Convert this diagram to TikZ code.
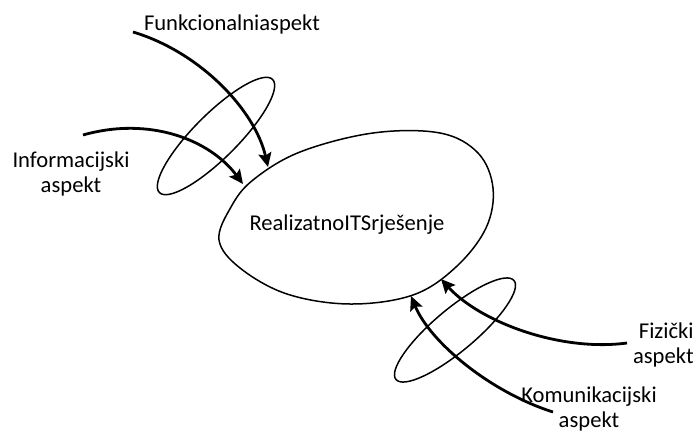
\documentclass[tikz,border=0pt]{standalone}
\usepackage{fontspec}
\setmainfont{Carlito}
\usetikzlibrary{arrows.meta}
\begin{document}
\begin{tikzpicture}[x=0.5pt,y=-0.5pt,
  lbl/.style={inner sep=0pt,font=\fontsize{11.3}{12.5}\selectfont},
  thin line/.style={line width=0.75pt},
  aspect arrow/.style={line width=1.4pt,-{Stealth[length=7pt,width=6.5pt,inset=1.2pt]}}]
\useasboundingbox (0,0) rectangle (697,434);
% central blob
\draw[thin line] plot[smooth cycle,tension=0.6] coordinates {
  (219,240) (231,207) (253,180) (300,152) (373,133) (440,133) (478,153)
  (493,188) (486,228) (456,267) (413,295) (350,304) (287,294) (240,268)};
\node[lbl] (main) at (347,225) {RealizatnoITSrješenje};
% ellipses
\draw[thin line] (216,136) ellipse[x radius=80, y radius=22, rotate=45];
\draw[thin line] (455,330) ellipse[x radius=77, y radius=21, rotate=40];
% labels
\node[lbl] (funk) at (232,24) {Funkcionalniaspekt};
\node[lbl,align=center] (info) at (71,174) {Informacijski\\aspekt};
\node[lbl,align=right,anchor=east] (fiz) at (694,345) {Fizički\\aspekt};
\node[lbl,align=center] (kom) at (589,409) {Komunikacijski\\aspekt};
% arrow ends
\coordinate (fs) at (133,32);
\coordinate (fe) at (268,167);
\coordinate (is) at (83,135);
\coordinate (ie) at (243,184);
\coordinate (zs) at (627,343);
\coordinate (ze) at (441,279);
\coordinate (ks) at (553,412);
\coordinate (ke) at (411,296);
\draw[aspect arrow] (fs) .. controls (200,52) and (255,110) .. (fe);
\draw[aspect arrow] (is) .. controls (150,116) and (210,140) .. (ie);
\draw[aspect arrow] (zs) .. controls (560,352) and (480,322) .. (ze);
\draw[aspect arrow] (ks) .. controls (490,392) and (430,342) .. (ke);
\end{tikzpicture}
\end{document}
